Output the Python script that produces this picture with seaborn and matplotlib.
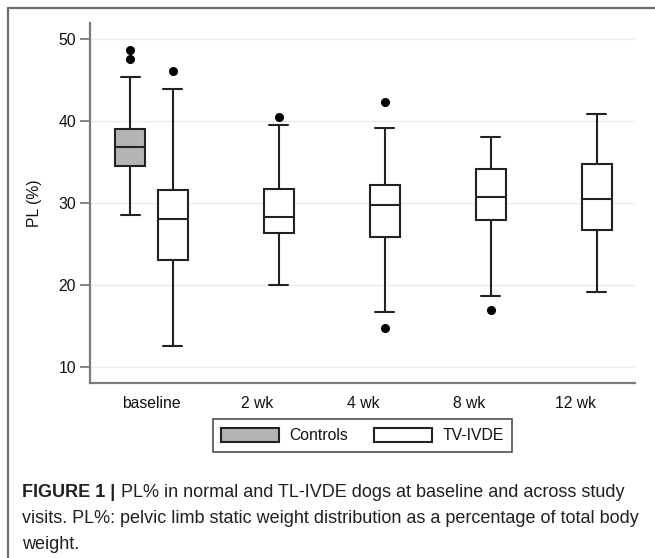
import pandas as pd
import numpy as np
import matplotlib
matplotlib.use('Agg')
import matplotlib.pyplot as plt
import seaborn as sns
from matplotlib.lines import Line2D

# values, one list per box (13 obs each, so that
# quartiles / whiskers / outliers land where the picture shows them)
visits = ['baseline', '2 wk', '4 wk', '8 wk', '12 wk']
groups = ['Controls', 'TV-IVDE']

controls_baseline = [28.5, 31.0, 33.2, 34.55, 35.4, 36.1, 36.8, 37.5, 38.3, 39.0, 45.4, 47.6, 48.7]
tv_baseline = [12.6, 18.0, 21.0, 23.1, 25.0, 26.8, 28.05, 29.2, 30.5, 31.6, 35.0, 43.9, 46.1]
tv_2wk = [20.0, 23.0, 25.0, 26.4, 27.0, 27.7, 28.3, 29.4, 30.6, 31.7, 34.0, 39.5, 40.5]
tv_4wk = [14.8, 16.75, 22.0, 25.85, 27.0, 28.5, 29.7, 30.5, 31.4, 32.2, 35.5, 39.1, 42.3]
tv_8wk = [17.0, 18.7, 24.0, 27.9, 28.8, 29.8, 30.7, 31.9, 33.0, 34.15, 35.5, 37.0, 38.05]
tv_12wk = [19.2, 22.5, 25.0, 26.7, 28.0, 29.3, 30.45, 31.8, 33.3, 34.75, 36.5, 38.5, 40.9]

yticks = [10, 20, 30, 40, 50]

rows = []
for v in controls_baseline:
    rows.append(('baseline', 'Controls', v))
for visit, vals in zip(visits, [tv_baseline, tv_2wk, tv_4wk, tv_8wk, tv_12wk]):
    for v in vals:
        rows.append((visit, 'TV-IVDE', v))
df = pd.DataFrame(rows, columns=['visit', 'group', 'pl'])

sns.set_style('white')
plt.rcParams['font.family'] = ['Liberation Sans', 'DejaVu Sans']
plt.rcParams['text.color'] = '#111111'
plt.rcParams['axes.labelcolor'] = '#111111'
plt.rcParams['xtick.labelcolor'] = '#111111'
plt.rcParams['ytick.labelcolor'] = '#111111'

fig = plt.figure(figsize=(6.55, 5.58), dpi=100)
ax = fig.add_axes([90/655, 1 - 383/558, 545/655, 360/558])

line_col = '#222222'
sns.boxplot(data=df, x='visit', y='pl', hue='group', order=visits, hue_order=groups,
            palette={'Controls': '#b4b4b4', 'TV-IVDE': 'white'}, saturation=1,
            width=0.8, gap=0.3, dodge=True, linecolor=line_col, linewidth=1.5,
            fliersize=5.5, capwidths=0.18,
            flierprops=dict(marker='o', markerfacecolor='black', markeredgecolor='black'),
            ax=ax)

ax.set_ylim(8.05, 51.95)
ax.set_xlim(-0.58, 4.56)
ax.set_yticks(yticks)
ax.set_xlabel('')
ax.set_ylabel('PL (%)', fontsize=11.3, labelpad=12)
ax.yaxis.grid(True, color='#e4eef0', linewidth=1)
ax.set_axisbelow(True)
for s in ['top', 'right']:
    ax.spines[s].set_visible(False)
for s in ['left', 'bottom']:
    ax.spines[s].set_color('#7a7a7a')
    ax.spines[s].set_linewidth(1.6)
ax.tick_params(axis='y', length=7, width=1.3, color='#7a7a7a', labelsize=11.3, pad=3,
               left=True, direction='out')
ax.tick_params(axis='x', length=0, labelsize=11.3, pad=9)

sns.move_legend(ax, 'upper center', bbox_to_anchor=(0.5, -0.1), ncol=2, title=None,
                frameon=True, fancybox=False, edgecolor='#222222', fontsize=11.3,
                handlelength=3.7, handleheight=1.0, columnspacing=1.65, handletextpad=0.65,
                borderaxespad=0, borderpad=0.55)
ax.get_legend().get_frame().set_linewidth(1.2)

# frame around the figure panel (only top and left edges visible)
fig.add_artist(Line2D([8/655, 1], [1 - 8/558, 1 - 8/558], transform=fig.transFigure,
                      color='#6e6e6e', lw=1.6))
fig.add_artist(Line2D([8/655, 8/655], [0, 1 - 8/558], transform=fig.transFigure,
                      color='#6e6e6e', lw=1.6))

# caption
cap_col = '#231f20'
fs = 13
x0 = 22
y_lines = [497, 523, 549]
renderer = fig.canvas.get_renderer()
t_bold = fig.text(x0/655, 1 - y_lines[0]/558, 'FIGURE 1 |', fontsize=fs, fontweight='bold',
                  color=cap_col, va='baseline')
bb = t_bold.get_window_extent(renderer)
fig.text((bb.x1 + 6)/655, 1 - y_lines[0]/558,
         'PL% in normal and TL-IVDE dogs at baseline and across study',
         fontsize=fs, color=cap_col, va='baseline')
fig.text(x0/655, 1 - y_lines[1]/558,
         'visits. PL%: pelvic limb static weight distribution as a percentage of total body',
         fontsize=fs, color=cap_col, va='baseline')
fig.text(x0/655, 1 - y_lines[2]/558, 'weight.', fontsize=fs, color=cap_col, va='baseline')

fig.savefig('out.png', dpi=100)
